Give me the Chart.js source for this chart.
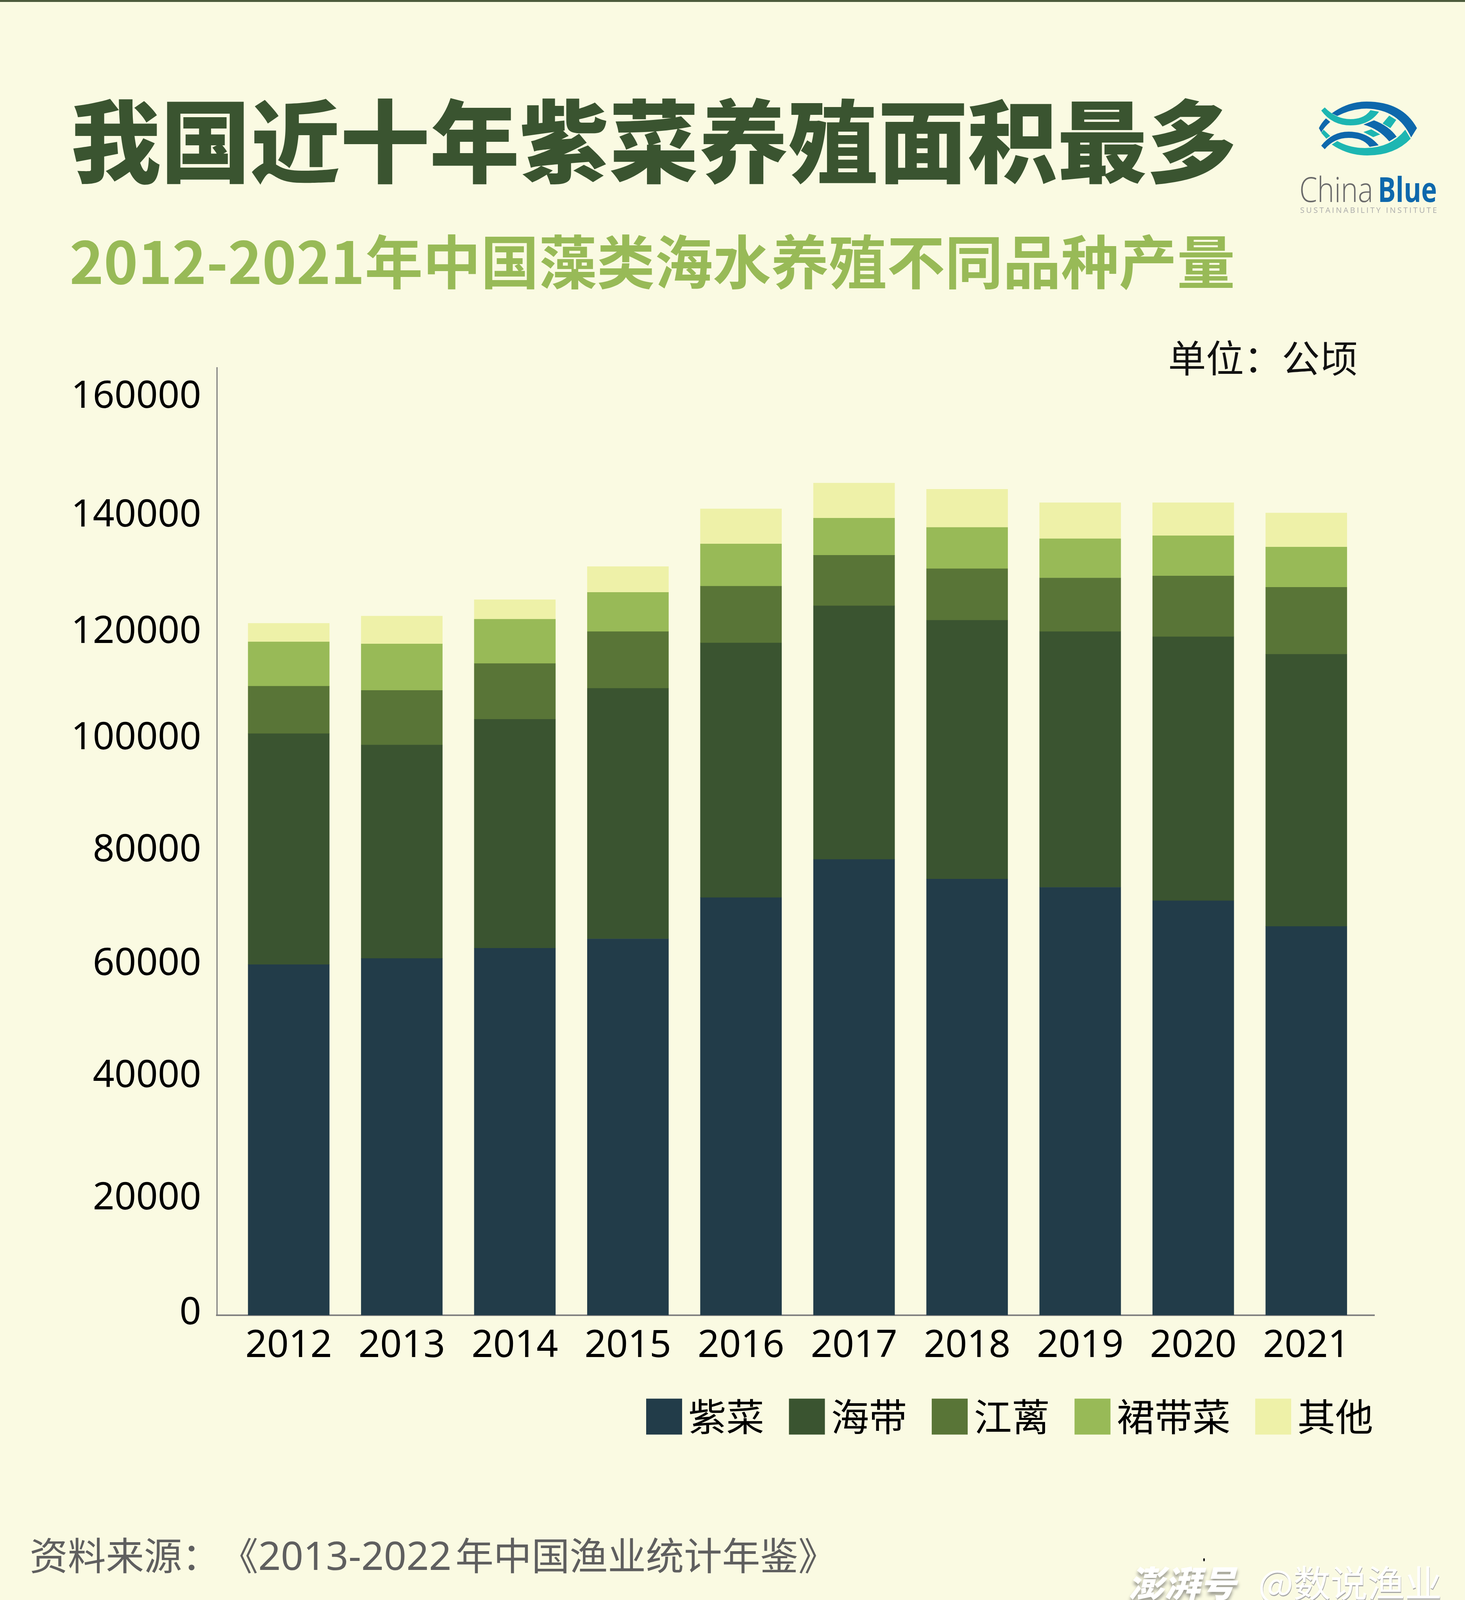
<!DOCTYPE html>
<html lang="zh">
<head>
<meta charset="UTF-8">
<title>我国近十年紫菜养殖面积最多</title>
<script src="https://cdn.jsdelivr.net/npm/chart.js"></script>
<style>
html, body { margin: 0; padding: 0; background: #fafae2; }
#page { position: relative; width: 3750px; height: 4135px; overflow: hidden; background: #fafae2; font-family: "Noto Sans", "Noto Sans CJK SC", sans-serif; }
#page > div, #page > svg, #page > canvas { position: absolute; white-space: nowrap; }
#topline { left: 0; top: 0; width: 3750px; height: 5px; background: #4c5b3c; }
#chart { left: 0; top: 0; }
#title { left: 182px; top: 199px; font-size: 229.5px; line-height: 300px; font-weight: 900; font-family: "Noto Sans CJK SC"; color: #3a5430; }
#subtitle { left: 178px; top: 563px; font-size: 148.5px; line-height: 200px; font-weight: 700; font-family: "Noto Sans CJK SC"; color: #98ba57; }
#unit { left: 2990px; top: 846px; font-size: 97px; line-height: 130px; font-family: "Noto Sans CJK SC"; color: #111; }
#source { left: 76px; top: 3915px; font-size: 97.5px; line-height: 130px; color: #5f5f5f; text-spacing-trim: space-all; }
#source .num { font-size: 101px; margin-right: 10px; }
#mark1 { left: 2888px; top: 3988px; font-size: 92px; line-height: 120px; font-weight: 900; font-style: italic; font-family: "Noto Sans CJK SC"; color: #fff; text-shadow: 0 8px 8px #9a9a90; }
#mark2 { left: 3221px; top: 3988px; font-size: 95px; line-height: 120px; font-family: "Noto Sans CJK SC"; color: #fff; text-shadow: 1px 3px 0 #aaa; }
#dot { left: 3080px; top: 3989px; width: 4px; height: 8px; background: #000; border-radius: 50%; }
</style>
</head>
<body>
<div id="page">
    <canvas id="chart" width="3750" height="3746"></canvas>
    <div id="topline"></div>
    <div id="title">我国近十年紫菜养殖面积最多</div>
    <div id="subtitle">2012-2021年中国藻类海水养殖不同品种产量</div>
    <div id="unit">单位：公顷</div>
    <div id="source">资料来源：《<span class="num">2013-2022</span>年中国渔业统计年鉴》</div>
    <svg id="logo" style="left:3100px;top:200px" width="650" height="400" viewBox="0 0 650 400">
        <g fill="#0e68ac">
            <path d="M309 90 Q350 60 398 60 Q490 60 527 128 L512 152 Q480 80 398 78 Q360 78 323 97Z"/>
            <path d="M282 173 L291 182 Q315 153 352 153 Q390 153 406 176 L429 172 Q400 137 352 137 Q310 137 282 173Z"/>
            <path d="M390 119 L417 108 Q455 122 475 150 L456 162 Q430 130 390 119Z"/>
            <path d="M294 103 L305 112 Q290 125 282 139 L276 128 Q282 115 294 103Z"/>
        </g>
        <g fill="#1db6b2">
            <path d="M497 132 L511 155 Q470 198 400 198 Q350 198 309 170 L323 161 Q355 179 394 179 Q460 179 497 132Z"/>
            <path d="M282 83 L291 75 Q320 105 357 105 Q392 105 408 82 L430 86 Q405 121 357 121 Q310 121 282 83Z"/>
            <path d="M288 132 L305 148 L295 155 L282 140Z"/>
            <path d="M456 96 L474 107 L459 128 L439 116Z"/>
            <path d="M390 138 L410 131 L433 144 L415 151Z"/>
        </g>
        <text x="226" y="317" font-family="Open Sans" font-weight="300" font-size="88" fill="#6a6a6a" textLength="189" lengthAdjust="spacingAndGlyphs">China</text>
        <text x="427" y="317" font-family="Open Sans" font-weight="700" font-size="88" fill="#0e68ac" textLength="151" lengthAdjust="spacingAndGlyphs">Blue</text>
        <text x="228" y="345" font-family="Open Sans" font-size="20" fill="#aaaaaa" textLength="350">SUSTAINABILITY INSTITUTE</text>
    </svg>
    <div id="dot"></div>
    <div id="mark1">澎湃号</div>
    <div id="mark2">@数说渔业</div>
</div>
<script>
// 数据（公顷）
const years = [2012, 2013, 2014, 2015, 2016, 2017, 2018, 2019, 2020, 2021];
const seriesNames = ['紫菜', '海带', '江蓠', '裙带菜', '其他'];
const zicai = [61270, 62350, 64150, 65770, 72980, 79650, 76220, 74780, 72440, 67940];
const haidai = [40360, 37300, 40000, 43790, 44510, 44330, 45230, 44690, 46130, 47570];
const jiangli = [8290, 9550, 9730, 9910, 9910, 8830, 9010, 9370, 10630, 11710];
const qundaicai = [7750, 8110, 7750, 6850, 7390, 6490, 7210, 6850, 7030, 7030];
const others = [3240, 4870, 3420, 4510, 6130, 6130, 6670, 6310, 5770, 5950];
const yTicks = [0, 20000, 40000, 60000, 80000, 100000, 120000, 140000, 160000];
const colors = ['#223c49', '#3a5430', '#597537', '#98ba57', '#eef1a8'];

// 原图的纵轴标签是手工摆放的，并不完全对齐刻度
const yLabelNudge = [-5, -6, -26, -20, -18, -12, 9, 4, -7];

const tickFont = { family: '"Noto Sans", sans-serif', size: 97 };

const placeLegend = {
    id: 'placeLegend',
    afterLayout(chart) {
        chart.legend.top = 3482;
        chart.legend.right = 3611;
    },
    beforeDraw(chart) {
        const scale = chart.scales.y;
        if (scale.nudged) return;
        scale.getLabelItems().forEach((item, i) => { item.options.translation[1] += yLabelNudge[i]; });
        scale.nudged = true;
    }
};

new Chart(document.getElementById('chart'), {
    type: 'bar',
    data: {
        labels: years,
        datasets: [zicai, haidai, jiangli, qundaicai, others].map((values, i) => ({
            label: seriesNames[i],
            data: values,
            backgroundColor: colors[i],
            barThickness: 208
        }))
    },
    plugins: [placeLegend],
    options: {
        responsive: false,
        animation: false,
        devicePixelRatio: 1,
        layout: { padding: { left: 0, right: 232, top: 941, bottom: 0 } },
        plugins: {
            tooltip: { enabled: false },
            legend: {
                position: 'bottom',
                align: 'end',
                labels: {
                    // 描边撑大色块，文字才能贴近色块
                    boxWidth: 27,
                    boxHeight: 27,
                    padding: 96,
                    color: '#000',
                    font: { family: '"Noto Sans CJK SC"', size: 97 },
                    generateLabels: chart => chart.data.datasets.map((d, i) => ({
                        text: d.label,
                        fillStyle: d.backgroundColor,
                        strokeStyle: d.backgroundColor,
                        lineWidth: 65,
                        fontColor: '#000',
                        datasetIndex: i
                    }))
                }
            }
        },
        scales: {
            x: {
                type: 'linear',
                stacked: true,
                offset: false,
                // 柱子并不在轴的正中，轴两端留白不同
                min: 2011.364,
                max: 2021.602,
                grid: { display: false, drawTicks: false },
                border: { color: '#808080', width: 4 },
                afterBuildTicks: scale => { scale.ticks = years.map(value => ({ value })); },
                afterFit: scale => { scale.height = 176; },
                ticks: {
                    padding: 21,
                    color: '#000',
                    font: tickFont,
                    maxRotation: 0,
                    autoSkip: false,
                    callback: value => String(value)
                }
            },
            y: {
                stacked: true,
                min: 0,
                max: 165600,
                grid: { display: false, drawTicks: false },
                border: { color: '#808080', width: 3 },
                afterBuildTicks: scale => { scale.ticks = yTicks.map(value => ({ value })); },
                afterFit: scale => { scale.width = 555; },
                ticks: {
                    padding: 40,
                    color: '#000',
                    font: tickFont,
                    callback: value => String(value)
                }
            }
        }
    }
});
</script>
</body>
</html>
